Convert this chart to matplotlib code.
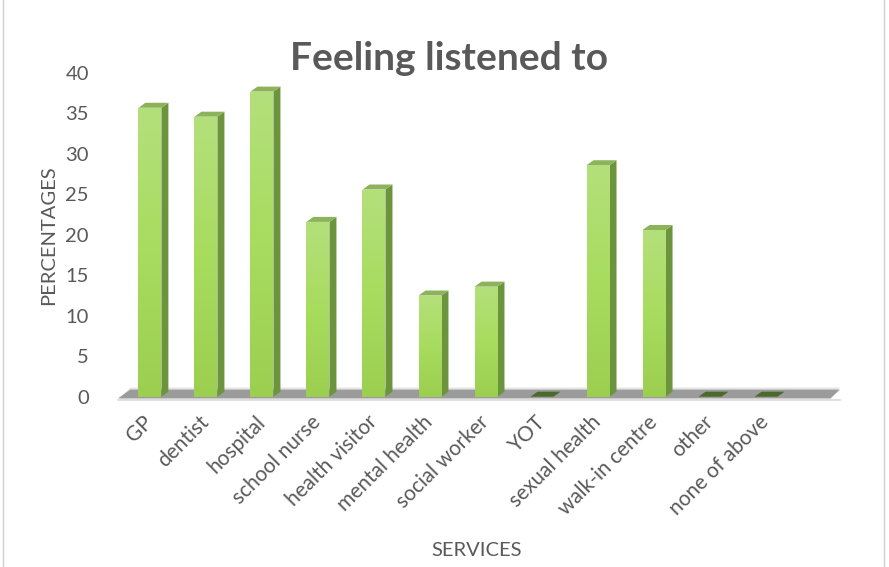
import matplotlib
matplotlib.use("Agg")
import matplotlib.pyplot as plt
import numpy as np
from matplotlib.patches import Polygon, Rectangle
from matplotlib.colors import LinearSegmentedColormap
from matplotlib.transforms import ScaledTranslation

categories = ["GP", "dentist", "hospital", "school nurse", "health visitor",
              "mental health", "social worker", "YOT", "sexual health",
              "walk-in centre", "other", "none of above"]
values = [35.7, 34.6, 37.7, 21.6, 25.6, 12.5, 13.6, 0, 28.6, 20.6, 0, 0]
yticks = [0, 5, 10, 15, 20, 25, 30, 35, 40]

plt.rcParams['font.family'] = ['Lato', 'DejaVu Sans']
W, H = 889, 567
fig = plt.figure(figsize=(W / 100, H / 100), dpi=100)
fig.patch.set_facecolor('white')

# chart border
fig.add_artist(Rectangle((3 / W, -0.01), (884 - 3) / W, 1.02, transform=fig.transFigure,
                         fill=False, edgecolor='#d0d0d0', linewidth=1))

ax = fig.add_axes([118 / W, 1 - 396.7 / H, (840 - 118) / W, (396.7 - 73) / H])
ax.set_xlim(-0.57, 12.32)
ax.set_ylim(0, 40)
for s in ax.spines.values():
    s.set_visible(False)

x = np.arange(len(categories))
bw = 0.41
dx = 0.125
dy = 0.62
grey = '#595959'

# floor shadow
for i, (a, c) in enumerate([(0.10, 1.3), (0.18, 0.9), (0.35, 0.55)]):
    ax.add_patch(Polygon([(-0.57, -c * 0.3), (12.15, -c * 0.3),
                          (12.32, dy + c * 0.4), (-0.35, dy + c * 0.4)],
                         closed=True, facecolor='#404040', alpha=a, edgecolor='none',
                         zorder=1, clip_on=False))
ax.plot([-0.57, 12.32], [-0.45, -0.45], color='#d9d9d9', lw=1.2, zorder=1, clip_on=False)

cmap = LinearSegmentedColormap.from_list('g', ['#9ccf50', '#a8dc5e', '#b4e07c'])
grad = np.linspace(0, 1, 256).reshape(-1, 1)

bars = ax.bar(x, values, width=bw, color='#a8dc5e', edgecolor='none', zorder=3)
for rect, v in zip(bars, values):
    x0 = rect.get_x()
    x1 = x0 + rect.get_width()
    h = rect.get_height()
    if h <= 0:
        ax.add_patch(Polygon([(x0, 0), (x1, 0), (x1 + dx, dy), (x0 + dx, dy)],
                             closed=True, facecolor='#4a6a2b', edgecolor='none', zorder=3))
        continue
    im = ax.imshow(grad, extent=(x0, x1, 0, h), origin='lower', cmap=cmap,
                   aspect='auto', zorder=3.1, interpolation='bicubic')
    im.set_clip_path(rect)
    ax.add_patch(Polygon([(x1, 0), (x1 + dx, dy), (x1 + dx, h + dy), (x1, h)],
                         closed=True, facecolor='#6b943c', edgecolor='none', zorder=3))
    ax.add_patch(Polygon([(x0, h), (x0 + dx, h + dy), (x1 + dx, h + dy), (x1, h)],
                         closed=True, facecolor='#8cb35a', edgecolor='none', zorder=3))

ax.set_xlim(-0.57, 12.32)
ax.set_ylim(0, 40)
ax.set_yticks(yticks)
ax.set_yticklabels([str(t) for t in yticks], fontsize=14.5, color=grey)
ax.tick_params(axis='y', length=0, pad=21)
ax.set_xticks(x)
ax.set_xticklabels(categories, rotation=45, ha='right', rotation_mode='anchor',
                   fontsize=15, color=grey)
shift = ScaledTranslation(-9 / 100, 0, fig.dpi_scale_trans)
for lbl in ax.get_xticklabels():
    lbl.set_va('center')
    lbl.set_transform(lbl.get_transform() + shift)
ax.tick_params(axis='x', length=0, pad=16)

ax.set_ylabel('PERCENTAGES', fontsize=14.5, color=grey, labelpad=6)
fig.text(477 / W, 1 - 550 / H, 'SERVICES', fontsize=14.5, color=grey, ha='center', va='center')
fig.text(449 / W, 1 - 58 / H, 'Feeling listened to', fontsize=28, fontweight='bold',
         color=grey, ha='center', va='center')

fig.savefig('out.png', dpi=100, facecolor='white')
